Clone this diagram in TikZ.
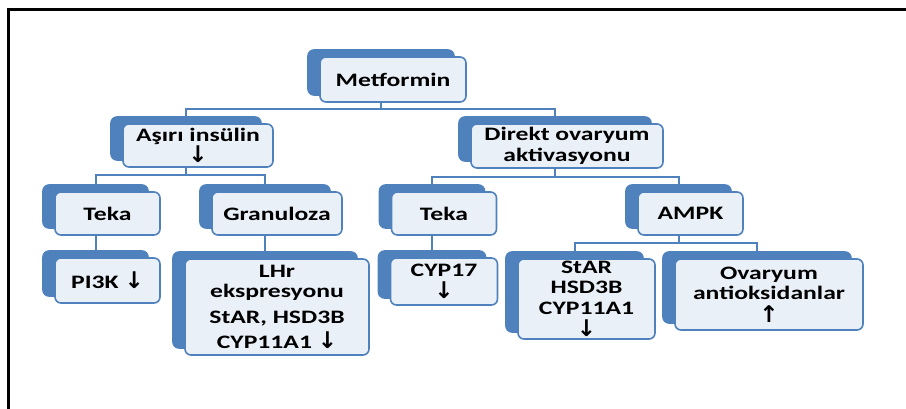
\documentclass[tikz,border=0pt]{standalone}
\usepackage{fontspec}
\setmainfont{Carlito}[FakeStretch=1.35]
\newfontfamily\arrowfont{DejaVu Sans}
\usetikzlibrary{shadows}
\definecolor{boxblue}{HTML}{4F81BD}
\definecolor{boxfill}{HTML}{EAF0F8}
\tikzset{
  card/.style={draw=boxblue, fill=boxfill, rounded corners=6pt, line width=1.6pt,
               align=center, inner sep=0pt, text=black,
               font=\bfseries\fontsize{19}{20.5}\selectfont,
               copy shadow={shadow xshift=-12pt, shadow yshift=7pt,
                            fill=boxblue, draw=boxblue}},
  link/.style={draw=boxblue, line width=2pt},
  border/.style={draw=black, line width=3pt}
}
\newcommand{\dn}{{\arrowfont\bfseries\fontsize{23}{20.5}\selectfont ↓}}
\newcommand{\up}{{\arrowfont\bfseries\fontsize{23}{20.5}\selectfont ↑}}
\begin{document}
\begin{tikzpicture}[x=1pt,y=-1pt]
  \useasboundingbox (0,0) rectangle (906,408);
  \draw[border] (8,420) -- (8,9) -- (920,9);

  % level 1 and 2
  \node[card, minimum width=146pt, minimum height=45pt] (met) at (393,79.5) {Metformin};
  \node[card, minimum width=150pt, minimum height=43pt] (asiri) at (198,145.5) {Aşırı insülin\\\dn};
  \node[card, minimum width=192pt, minimum height=44pt] (direkt) at (567,146) {Direkt ovaryum\\aktivasyonu};

  % left branch
  \node[card, minimum width=105pt, minimum height=43pt] (teka1) at (107.5,213.5) {Teka};
  \node[card, minimum width=130pt, minimum height=43pt] (gran) at (277,213.5) {Granuloza};
  \node[card, minimum width=105pt, minimum height=45pt] (pi3k) at (107.5,280.5) {PI3K \dn};
  \node[card, minimum width=184pt, minimum height=96pt] (lhr) at (277,307)
    {LHr\\ekspresyonu\\[5pt]StAR, HSD3B\\[5pt]CYP11A1 \dn};

  % right branch
  \node[card, minimum width=105pt, minimum height=43pt] (teka2) at (444,213.5) {Teka};
  \node[card, minimum width=105pt, minimum height=43pt] (ampk) at (690.5,213.5) {AMPK};
  \node[card, minimum width=107pt, minimum height=47pt] (cyp17) at (444,281.5) {CYP17\\[1pt]\dn};
  \node[card, minimum width=137pt, minimum height=80pt] (star) at (586.5,299) {StAR\\HSD3B\\CYP11A1\\[2pt]\dn};
  \node[card, minimum width=188pt, minimum height=71pt] (ovar) at (769,294.5) {Ovaryum\\antioksidanlar\\[2pt]\up};

  % connectors
  \draw[link] ([xshift=-12pt]met.south) -- ++(0,6);
  \draw[link] ([xshift=-12pt,yshift=7pt]asiri.north) |- ([xshift=-12pt,yshift=-6pt]met.south)
              -| ([xshift=-12pt,yshift=7pt]direkt.north);
  \draw[link] ([xshift=-12pt]asiri.south) -- ++(0,7);
  \draw[link] ([xshift=-12pt,yshift=7pt]teka1.north) |- ([xshift=-12pt,yshift=-7pt]asiri.south)
              -| ([xshift=-12pt,yshift=7pt]gran.north);
  \draw[link] ([xshift=-12pt]direkt.south) -- ++(0,8);
  \draw[link] ([xshift=-12pt,yshift=7pt]teka2.north) |- ([xshift=-12pt,yshift=-8pt]direkt.south)
              -| ([xshift=-12pt,yshift=7pt]ampk.north);
  \draw[link] ([xshift=-12pt]teka1.south) -- ([xshift=-12pt,yshift=7pt]pi3k.north);
  \draw[link] ([xshift=-12pt]gran.south) -- ([xshift=-12pt,yshift=7pt]lhr.north);
  \draw[link] ([xshift=-12pt]teka2.south) -- ([xshift=-12pt,yshift=7pt]cyp17.north);
  \draw[link] ([xshift=-12pt]ampk.south) -- ++(0,7);
  \draw[link] ([xshift=-12pt,yshift=7pt]star.north) |- ([xshift=-12pt,yshift=-7pt]ampk.south)
              -| ([xshift=-12pt,yshift=7pt]ovar.north);
\end{tikzpicture}
\end{document}
